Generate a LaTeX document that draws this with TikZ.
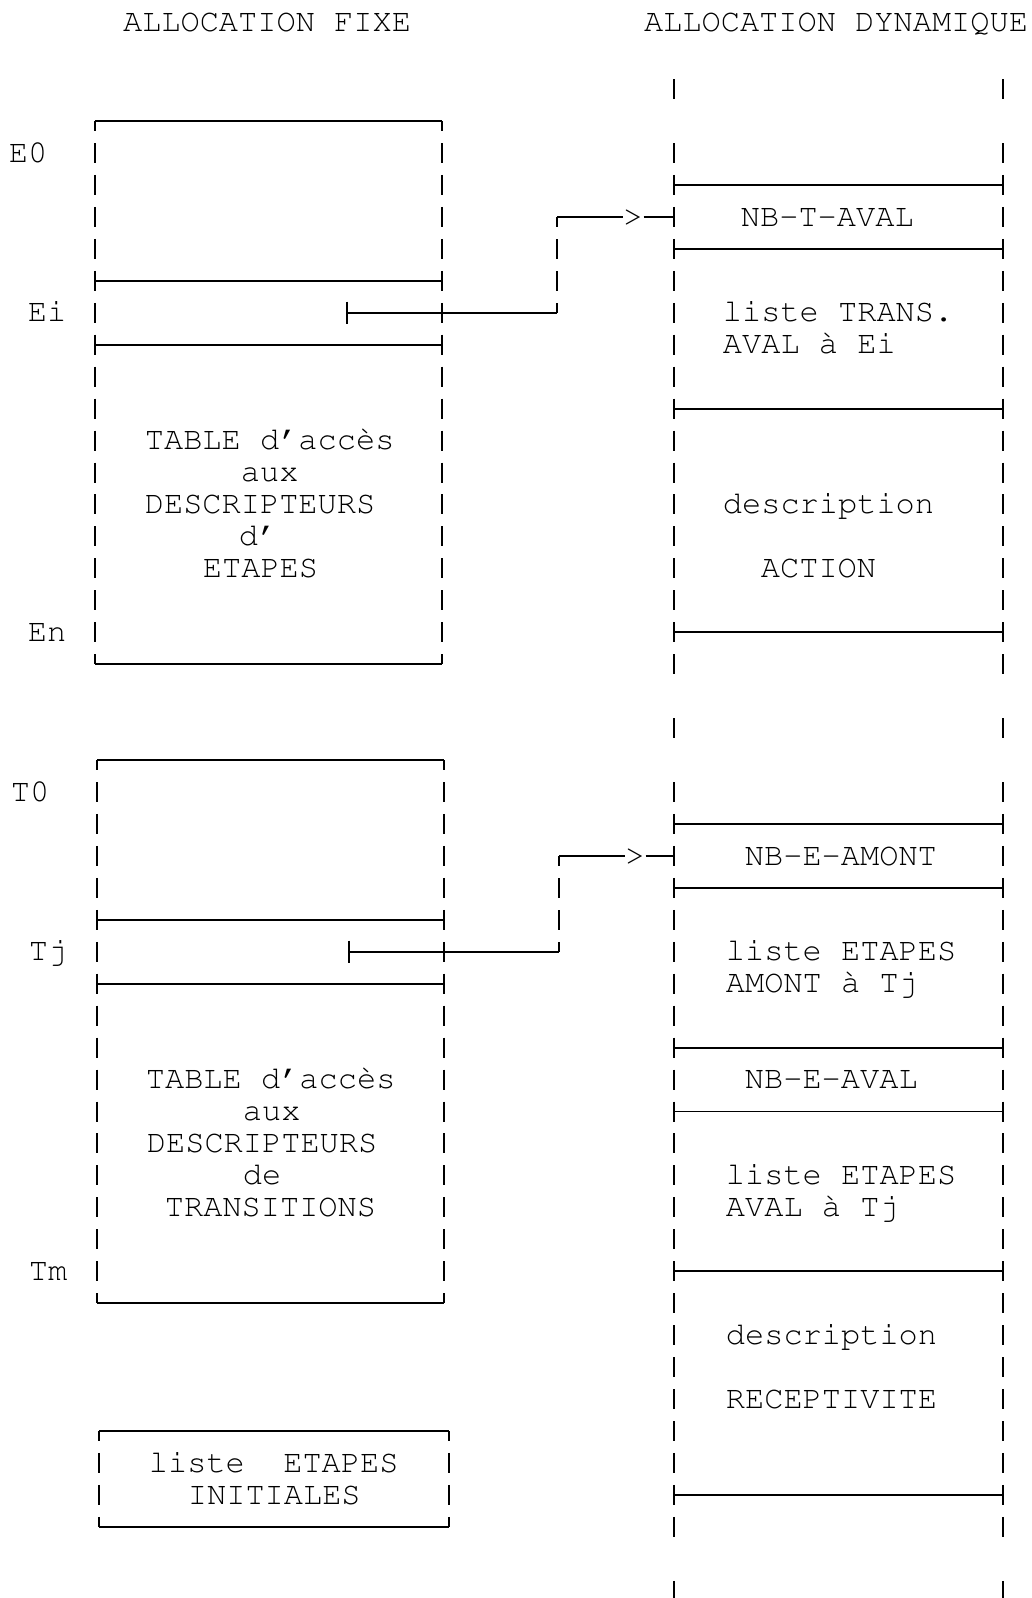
\documentclass[tikz,border=0pt]{standalone}
\begin{document}
\begin{tikzpicture}[x=0.5pt, y=-15.975pt, line width=0.9pt,
    txt/.style={font=\fontencoding{T1}\fontfamily{pcr}\fontsize{16}{16}\selectfont,
                inner sep=0pt, text height=9.2pt, text depth=0pt},
    rail/.style={dash pattern=on 10pt off 5.975pt},
    railmid/.style={rail, dash phase=5pt}]
    \useasboundingbox (0,-4.789) rectangle (1032,45.227);

    \node[txt] (titlefix) at (267,-4.1) {ALLOCATION FIXE};
    \node[txt] (titledyn) at (836,-4.1) {ALLOCATION DYNAMIQUE};

    \foreach \xa/\xb/\ra/\rb in {95/442/-1/16, 97/444/19/36, 99/449/40/43} {
        \draw (\xa,\ra) -- (\xb,\ra);
        \draw (\xa,\rb) -- (\xb,\rb);
        \draw[railmid] (\xa,\ra) -- (\xa,\rb);
        \draw[railmid] (\xb,\ra) -- (\xb,\rb);
    }
    \foreach \xa/\xb/\r in {95/442/4, 95/442/6, 97/444/24, 97/444/26}
        \draw (\xa,\r) -- (\xb,\r);

    \node[txt, anchor=west] (e0) at (8,0)   {E0};
    \node[txt, anchor=west] (ei) at (27,5)  {Ei};
    \node[txt, anchor=west] (en) at (27,15) {En};
    \node[txt, anchor=west] (t0) at (10,20) {T0};
    \node[txt, anchor=west] (tj) at (28,25) {Tj};
    \node[txt, anchor=west] (tm) at (28,35) {Tm};

    \node[txt, anchor=west] (etab1) at (144,9)  {TABLE d'accès};
    \node[txt, anchor=west] (etab2) at (240,10) {aux};
    \node[txt, anchor=west] (etab3) at (144,11) {DESCRIPTEURS};
    \node[txt, anchor=west] (etab4) at (238,12) {d'};
    \node[txt, anchor=west] (etab5) at (202,13) {ETAPES};

    \node[txt, anchor=west] (ttab1) at (145,29) {TABLE d'accès};
    \node[txt, anchor=west] (ttab2) at (242,30) {aux};
    \node[txt, anchor=west] (ttab3) at (146,31) {DESCRIPTEURS};
    \node[txt, anchor=west] (ttab4) at (242,32) {de};
    \node[txt, anchor=west] (ttab5) at (164,33) {TRANSITIONS};

    \node[txt, anchor=west] (init1) at (148,41) {liste\ \ ETAPES};
    \node[txt, anchor=west] (init2) at (187,42) {INITIALES};

    \foreach \x in {674, 1003} {
        \draw[rail] (\x,-2.313) -- (\x,-1.687);
        \draw[rail] (\x,-0.313) -- (\x,16.313);
        \draw[rail] (\x,17.687) -- (\x,18.313);
        \draw[rail] (\x,19.687) -- (\x,43.313);
        \draw[rail] (\x,44.687) -- (\x,45.313);
    }
    \foreach \r in {1, 3, 8, 15, 21, 23, 28, 30, 35, 42}
        \draw (674,\r) -- (1003,\r);

    \node[txt, anchor=west] (nbtaval)    at (740,2)  {NB-T-AVAL};
    \node[txt, anchor=west] (listetrans) at (722,5)  {liste TRANS.};
    \node[txt, anchor=west] (avalei)     at (722,6)  {AVAL à Ei};
    \node[txt, anchor=west] (descact)    at (722,11) {description};
    \node[txt, anchor=west] (action)     at (760,13) {ACTION};

    \node[txt, anchor=west] (nbeamont)   at (744,22) {NB-E-AMONT};
    \node[txt, anchor=west] (listeamont) at (725,25) {liste ETAPES};
    \node[txt, anchor=west] (amonttj)    at (725,26) {AMONT à Tj};
    \node[txt, anchor=west] (nbeaval)    at (744,29) {NB-E-AVAL};
    \node[txt, anchor=west] (listeaval)  at (725,32) {liste ETAPES};
    \node[txt, anchor=west] (avaltj)     at (725,33) {AVAL à Tj};
    \node[txt, anchor=west] (descrec)    at (725,37) {description};
    \node[txt, anchor=west] (recept)     at (725,39) {RECEPTIVITE};

    \coordinate (ei-slot) at (347,5);
    \coordinate (ei-bend) at (557,5);
    \coordinate (ei-up)   at (557,2);
    \node[txt] (ei-tip)   at (633,2) {>};
    \coordinate (ei-in)   at (674,2);
    \coordinate (tj-slot) at (349,25);
    \coordinate (tj-bend) at (559,25);
    \coordinate (tj-up)   at (559,22);
    \node[txt] (tj-tip)   at (635,22) {>};
    \coordinate (tj-in)   at (674,22);
    \foreach \p in {ei, tj} {
        \draw (\p-slot) ++(0,-0.35) -- ++(0,0.7);
        \draw (\p-slot) -- (\p-bend);
        \draw[railmid] (\p-bend) -- (\p-up);
        \draw (\p-up) -- (\p-tip.west);
        \draw (\p-tip.east) -- (\p-in);
    }
\end{tikzpicture}
\end{document}
